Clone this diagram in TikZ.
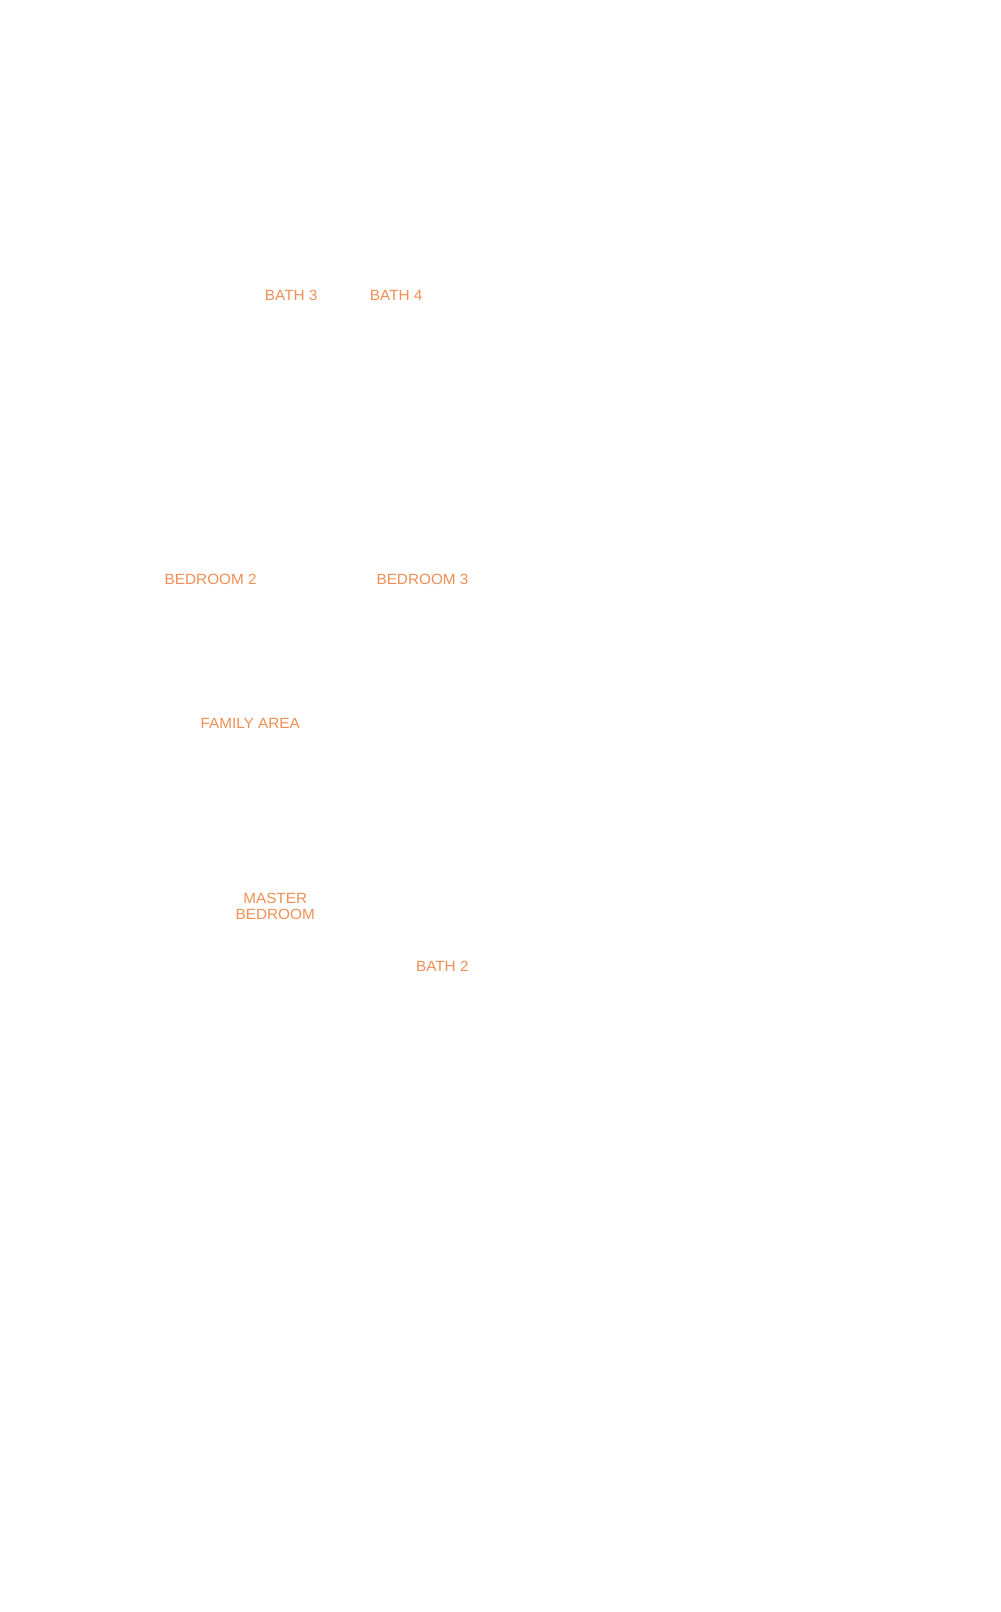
\documentclass[tikz,border=0pt]{standalone}
\usepackage{fontspec}
\setmainfont[FakeStretch=1.035]{Liberation Sans}
\definecolor{roomorange}{HTML}{EF8F55}
\tikzset{
  roomlabel/.style={text=roomorange, inner sep=0pt, outer sep=0pt, align=center,
    font=\fontsize{11.1}{12}\selectfont, anchor=center}
}
\begin{document}
\begin{tikzpicture}[x=0.75pt,y=-0.75pt]
\useasboundingbox[fill=white] (0,0) rectangle (1000,1612);
\node[roomlabel] (bath3) at (291.2,295.3) {BATH 3};
\node[roomlabel] (bath4) at (396.2,295.3) {BATH 4};
\node[roomlabel] (bed2) at (210.7,579) {BEDROOM 2};
\node[roomlabel] (bed3) at (422.5,579) {BEDROOM 3};
\node[roomlabel] (family) at (250.2,723.2) {FAMILY AREA};
\node[roomlabel] (master) at (275.2,906) {MASTER\\BEDROOM};
\node[roomlabel] (bath2) at (442.3,966.3) {BATH 2};
\end{tikzpicture}
\end{document}
